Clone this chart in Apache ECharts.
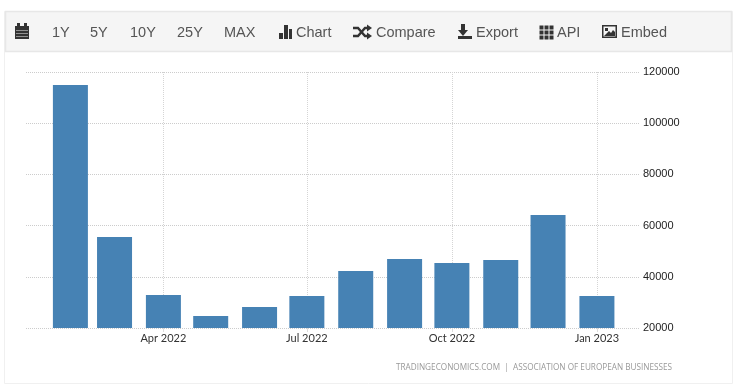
<!DOCTYPE html>
<html>
<head>
<meta charset="utf-8">
<style>
html, body { margin: 0; padding: 0; background: #fff; }
#chart { width: 740px; height: 392px; }
</style>
<script src="https://cdn.jsdelivr.net/npm/echarts@6/dist/echarts.min.js"></script>
</head>
<body>
<div id="chart"></div>
<script>
const months = ["2022-02-01", "2022-03-01", "2022-04-01", "2022-05-01", "2022-06-01", "2022-07-01",
    "2022-08-01", "2022-09-01", "2022-10-01", "2022-11-01", "2022-12-01", "2023-01-01"];
const sales = [114900, 55500, 32900, 24700, 28200, 32500, 42300, 47000, 45400, 46600, 64100, 32500];
const xTicks = ["2022-04-01", "2022-07-01", "2022-10-01", "2023-01-01"];
const monthNames = ["Jan", "Feb", "Mar", "Apr", "May", "Jun", "Jul", "Aug", "Sep", "Oct", "Nov", "Dec"];
const menuLabels = [["1Y", 52], ["5Y", 90], ["10Y", 130], ["25Y", 177], ["MAX", 224],
    ["Chart", 296], ["Compare", 376], ["Export", 476], ["API", 557], ["Embed", 621]];
const credit = "TRADINGECONOMICS.COM  |  ASSOCIATION OF EUROPEAN BUSINESSES";

const toTime = s => {
    const p = s.split("-");
    return new Date(+p[0], +p[1] - 1, +p[2]).getTime();
};

const iconColor = "#333";
const box = (x, y, w, h, fill) => ({
    type: "rect", silent: true, shape: { x: x, y: y, width: w, height: h }, style: { fill: fill || iconColor }
});
const poly = (points) => ({
    type: "polygon", silent: true, shape: { points: points }, style: { fill: iconColor }
});
const poly2 = (points, w) => ({
    type: "polyline", silent: true, shape: { points: points },
    style: { stroke: iconColor, lineWidth: w, fill: "none" }
});

const toolbarIcons = () => {
    let out = [];
    // calendar
    out.push(box(15, 26, 14, 13));
    out.push(box(17, 23, 3, 3), box(24, 23, 3, 3));
    [30, 33, 36].forEach(y => out.push(box(16, y, 12, 0.8, "#aaa")));
    // chart
    out.push(box(279, 33, 4, 6), box(284, 25, 4, 14), box(289, 29, 3, 10));
    // compare (shuffle arrows)
    out.push(poly2([[353, 28], [358, 28], [365, 36], [368, 36]], 2.4));
    out.push(poly2([[353, 36], [358, 36], [365, 28], [368, 28]], 2.4));
    out.push(poly([[367, 24.5], [372, 28], [367, 31.5]]), poly([[367, 32.5], [372, 36], [367, 39.5]]));
    // export
    out.push(box(461, 24, 4, 7), poly([[458, 30], [468, 30], [463, 36]]), box(458, 36, 14, 3));
    // api grid
    [539.5, 544.5, 549.5].forEach(x => [25.5, 30.5, 35.5].forEach(y => out.push(box(x, y, 4, 4))));
    // embed (picture)
    out.push(box(602, 25, 15, 13));
    out.push(box(603.5, 26.5, 12, 10, "#f5f5f5"));
    out.push(box(605, 28, 3, 3));
    out.push(poly([[604, 36], [609, 31], [611, 33], [613, 30], [615, 32], [615, 36]]));
    return out;
};

const chart = echarts.init(document.getElementById("chart"));

chart.setOption({
    animation: false,
    backgroundColor: "#fff",
    grid: { left: 26, right: 100, top: 72, bottom: 64 },
    xAxis: {
        // value axis on timestamps, time axis breaks on customValues
        type: "value",
        scale: true,
        min: new Date(2022, 0, 3, 20).getTime(),
        max: new Date(2023, 0, 28, 8).getTime(),
        axisLine: { show: false, onZero: false },
        axisTick: {
            show: true, length: 4, lineStyle: { color: "#ddd" },
            customValues: xTicks.map(toTime)
        },
        axisLabel: {
            customValues: xTicks.map(toTime),
            margin: 5,
            color: "#333",
            fontFamily: "Lato",
            fontSize: 11,
            hideOverlap: false,
            formatter: v => {
                const d = new Date(v);
                return monthNames[d.getMonth()] + " " + d.getFullYear();
            }
        },
        splitLine: { show: true, lineStyle: { color: "#d5d5d5", type: "dotted", width: 1 } }
    },
    yAxis: {
        type: "value",
        position: "right",
        min: 20000,
        max: 120000,
        interval: 20000,
        axisLine: { show: false },
        axisTick: { show: false },
        axisLabel: {
            margin: 3, color: "#222", fontFamily: "Arial, Liberation Sans", fontSize: 11,
            formatter: v => String(v)
        },
        splitLine: { show: true, lineStyle: { color: "#ccc", type: "dotted", width: 1 } }
    },
    series: [{
        type: "bar",
        data: months.map((m, i) => [toTime(m), sales[i]]),
        barWidth: 35,
        itemStyle: { color: "#4682b4" }
    }],
    graphic: [
        {
            type: "rect", silent: true, z: -1,
            shape: { x: 4.5, y: 11.5, width: 728, height: 372 },
            style: { fill: "#fff", stroke: "#f0f0f0", lineWidth: 1 }
        },
        {
            type: "rect", silent: true,
            shape: { x: 5.5, y: 11.5, width: 726, height: 40 },
            style: { fill: "#f5f5f5", stroke: "#e7e7e7", lineWidth: 1.5 }
        }
    ].concat(toolbarIcons()).concat(menuLabels.map(m => ({
        type: "text", silent: true,
        style: {
            x: m[1], y: 32.5, text: m[0], fill: "#555",
            font: "14.5px Arial, 'Liberation Sans'", textAlign: "left", textVerticalAlign: "middle"
        }
    }))).concat([{
        type: "text", silent: true,
        style: {
            x: 672, y: 368, text: credit, fill: "#999",
            font: "8.2px 'Open Sans'", textAlign: "right", textVerticalAlign: "middle"
        }
    }])
});
</script>
</body>
</html>
